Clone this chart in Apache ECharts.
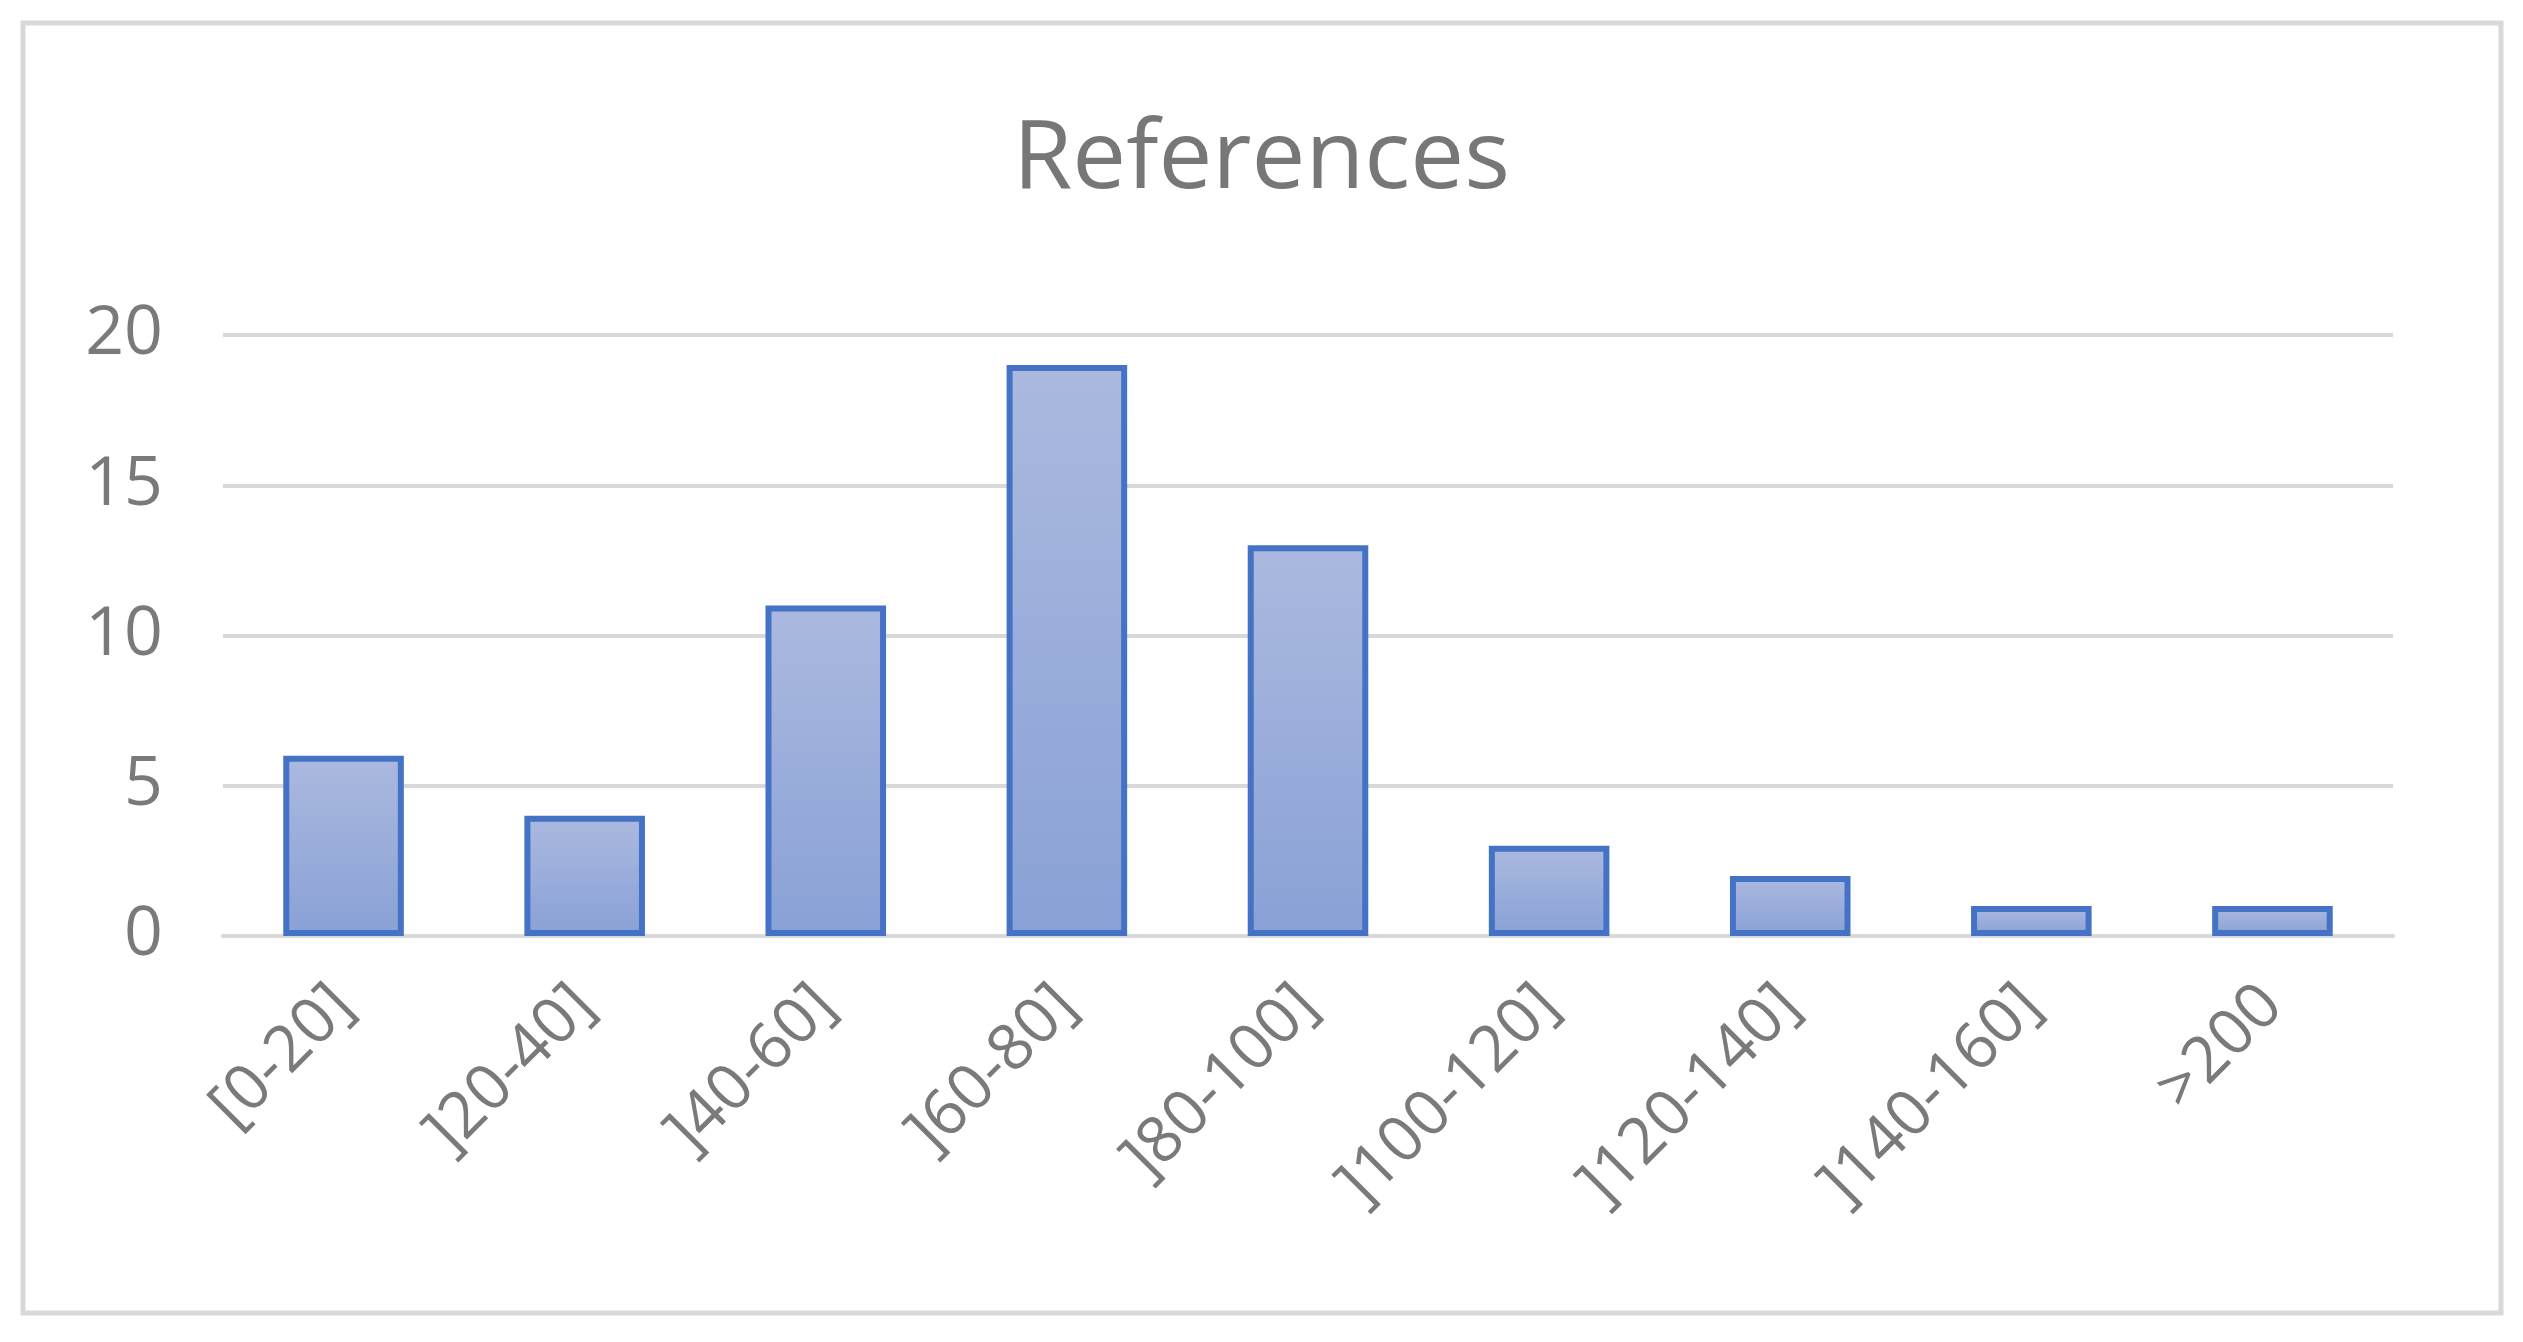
<!DOCTYPE html><html><head><meta charset="utf-8"><script src="https://cdn.jsdelivr.net/npm/echarts@6/dist/echarts.min.js"></script>
<style>html,body{margin:0;background:#fff}#c{width:2523px;height:1342px}</style></head><body><div id="c"></div><script>
const categories=['[0-20]',']20-40]',']40-60]',']60-80]',']80-100]',']100-120]',']120-140]',']140-160]','>200'];
const values=[6,4,11,19,13,3,2,1,1];
const title='References';
const chart=echarts.init(document.getElementById('c'));
chart.setOption({
 backgroundColor:'#fff',
 graphic:[{type:'rect',shape:{x:23,y:23,width:2478,height:1290},style:{fill:'none',stroke:'#d9d9d9',lineWidth:5}}],
 title:{text:title,left:'center',top:108,textStyle:{fontFamily:'Open Sans',fontWeight:'normal',fontSize:96,color:'#777'}},
 grid:{left:223,right:130,top:335,bottom:406},
 xAxis:{type:'category',data:categories,axisLine:{lineStyle:{color:'#d9d9d9',width:4}},axisTick:{show:false},
  axisLabel:{rotate:45,fontFamily:'Open Sans',fontSize:64,color:'#7a7a7a',margin:60,interval:0}},
 yAxis:{type:'value',min:0,max:20,interval:5,axisLine:{show:false},axisTick:{show:false},
  splitLine:{lineStyle:{color:'#d9d9d9',width:4}},
  axisLabel:{fontFamily:'Open Sans',fontSize:68,color:'#7a7a7a',margin:60}},
 series:[{type:'bar',data:values,barWidth:'50%',
  itemStyle:{borderColor:'#4472c4',borderWidth:6,
   color:new echarts.graphic.LinearGradient(0,0,0,1,[{offset:0,color:'#abb9df'},{offset:1,color:'#89a1d6'}])}}]
});
</script></body></html>
